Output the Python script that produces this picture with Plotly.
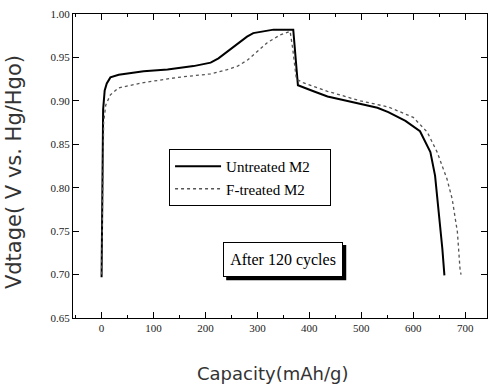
import plotly.graph_objects as go

# Untreated M2 (solid)
cap_untreated = [0, 1, 3, 6, 10, 17, 33, 81, 127, 177, 210, 225, 242, 255, 267, 280, 292, 310,
                 331, 369, 374, 378, 408, 435, 465, 531, 552, 585, 613, 633, 642, 648, 656, 660]
v_untreated = [0.697, 0.80, 0.89, 0.912, 0.920, 0.927, 0.930, 0.934, 0.936, 0.940, 0.944, 0.949,
               0.957, 0.963, 0.968, 0.974, 0.978, 0.980, 0.982, 0.982, 0.950, 0.918, 0.911,
               0.905, 0.901, 0.892, 0.887, 0.877, 0.865, 0.841, 0.814, 0.779, 0.730, 0.699]

# F-treated M2 (dotted)
cap_ftreated = [0, 2, 4, 8, 17, 33, 81, 146, 210, 242, 262, 281, 300, 319, 344, 363, 368, 375,
                388, 435, 498, 552, 600, 627, 646, 665, 675, 685, 690, 692]
v_ftreated = [0.70, 0.82, 0.875, 0.895, 0.907, 0.915, 0.921, 0.927, 0.931, 0.936, 0.940, 0.947,
              0.957, 0.967, 0.976, 0.980, 0.960, 0.925, 0.921, 0.911, 0.900, 0.893, 0.881,
              0.864, 0.841, 0.810, 0.787, 0.749, 0.707, 0.70]

x_ticks = [0, 100, 200, 300, 400, 500, 600, 700]
y_ticks = [0.65, 0.70, 0.75, 0.80, 0.85, 0.90, 0.95, 1.00]

serif = "Liberation Serif, Times New Roman, serif"
sans = "DejaVu Sans, Arial, sans-serif"
pad = "\u00a0\u00a0\u00a0\u00a0"

fig = go.Figure()
fig.add_trace(go.Scatter(x=cap_untreated, y=v_untreated, mode="lines", name="Untreated M2" + pad,
                         line=dict(color="black", width=2)))
fig.add_trace(go.Scatter(x=cap_ftreated, y=v_ftreated, mode="lines", name="F-treated M2" + pad,
                         line=dict(color="#555555", width=1.3, dash="dot")))

fig.update_layout(
    width=488, height=384,
    margin=dict(l=73, r=1, t=14, b=66),
    paper_bgcolor="white", plot_bgcolor="white",
    showlegend=True,
    legend=dict(x=0.232, y=0.556, xanchor="left", yanchor="top",
                bgcolor="white", bordercolor="black", borderwidth=1,
                font=dict(family=serif, size=15, color="black"),
                tracegroupgap=0, itemwidth=46),
    shapes=[
        # drop shadow of the "After 120 cycles" box
        dict(type="rect", xref="paper", yref="paper",
             x0=0.370, x1=0.660, y0=0.124, y1=0.240,
             fillcolor="black", line=dict(width=0), layer="above"),
    ],
    annotations=[
        dict(text="After 120 cycles", x=0.507, y=0.192, xref="paper", yref="paper",
             xanchor="center", yanchor="middle", showarrow=False, width=106, height=21,
             font=dict(family=serif, size=16, color="black"),
             bgcolor="white", bordercolor="black", borderwidth=1, borderpad=6),
        dict(text="Capacity(mAh/g)", x=0.481, y=0, xref="paper", yref="paper",
             xanchor="center", yanchor="middle", yshift=-55, showarrow=False,
             font=dict(family=sans, size=18, color="#333")),
        dict(text="Vdtage( V vs. Hg/Hgo)", x=0, y=0.48, xref="paper", yref="paper",
             xanchor="center", yanchor="middle", xshift=-59, textangle=-90, showarrow=False,
             font=dict(family=sans, size=21, color="#333")),
    ],
)

fig.update_xaxes(
    range=[-55, 742], tickvals=x_ticks, ticktext=[str(v) for v in x_ticks],
    ticks="inside", ticklen=6, tickwidth=1, tickcolor="black",
    minor=dict(ticks="inside", ticklen=3, dtick=50, tickcolor="black"),
    showline=True, linecolor="black", linewidth=1, mirror="ticks",
    showgrid=False, zeroline=False,
    tickfont=dict(family=serif, size=11, color="#222"),
)
fig.update_yaxes(
    range=[0.65, 1.0], tickvals=y_ticks, ticktext=[f"{v:.2f}" for v in y_ticks],
    ticks="inside", ticklen=6, tickwidth=1, tickcolor="black",
    showline=True, linecolor="black", linewidth=1, mirror="ticks",
    showgrid=False, zeroline=False,
    tickfont=dict(family=serif, size=11, color="#222"),
)

fig.write_html("out.html")
